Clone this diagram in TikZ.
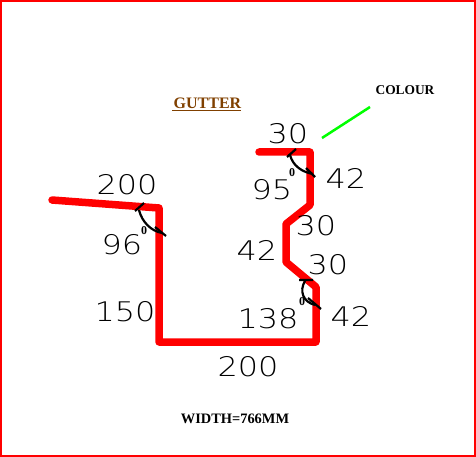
\documentclass[tikz,border=0pt]{standalone}
\usepackage{fontspec}
\setmainfont{Liberation Serif}
\newfontfamily\dimfont[FakeStretch=1.18]{DejaVu Sans ExtraLight}
\definecolor{gutterbrown}{RGB}{128,64,0}
\definecolor{colourgreen}{RGB}{0,255,0}
\tikzset{
	x=1pt,
	y=-1pt,
	frameline/.style={draw=red, line width=2pt},
	profile/.style={draw=red, line width=7.5pt, line join=round, line cap=round},
	pointer/.style={draw=colourgreen, line width=2.5pt},
	anglearc/.style={draw=black, line width=2.2pt},
	dimlabel/.style={font=\dimfont\fontsize{27}{27}\selectfont, text=black, inner sep=0pt},
	degree/.style={font=\bfseries\fontsize{12}{12}\selectfont, inner sep=0pt},
	heading/.style={font=\bfseries\fontsize{#1}{#1}\selectfont, inner sep=0pt}
}
\begin{document}
\begin{tikzpicture}

		\useasboundingbox (0,0) rectangle (476,457);
		\draw[frameline] (1,1) rectangle (475,456);

		% gutter outline
		\coordinate (p0) at (52,200);
		\coordinate (p1) at (159,208);
		\coordinate (p2) at (159,342);
		\coordinate (p3) at (316,342);
		\coordinate (p4) at (316,287);
		\coordinate (p5) at (286,262);
		\coordinate (p6) at (286,224);
		\coordinate (p7) at (310,205);
		\coordinate (p8) at (310,152);
		\coordinate (p9) at (259,152);
		\draw[profile] (p0) -- (p1) -- (p2) -- (p3) -- (p4) -- (p5) -- (p6) -- (p7) -- (p8) -- (p9);

		% titles
		\node[heading=16, text=gutterbrown] (title) at (207.5,103) {GUTTER};
		\coordinate (ulineA) at (172,110.5);
		\coordinate (ulineB) at (241,110.5);
		\draw[gutterbrown, line width=1pt] (ulineA) -- (ulineB);
		\node[heading=13.4] (colour) at (405,90) {COLOUR};
		\node[heading=14.4] (width) at (235,419) {WIDTH=766MM};

		\coordinate (greenA) at (322,138);
		\coordinate (greenB) at (370,107);
		\draw[pointer] (greenA) -- (greenB);

		% angle at the top
		\coordinate (a1) at (296,149);
		\coordinate (a2) at (287,157);
		\coordinate (a3) at (306,168);
		\coordinate (a4) at (315,177);
		\coordinate (a5) at (290,155);
		\coordinate (a6) at (313,174);
		\draw[anglearc] (a1) -- (a2) (a3) -- (a4);
		\draw[anglearc] (a5) .. controls (293,166) and (302,172) .. (a6);

		% angle at the left
		\coordinate (b1) at (144,203);
		\coordinate (b2) at (135,211);
		\coordinate (b3) at (155,227);
		\coordinate (b4) at (166,236);
		\coordinate (b5) at (139,210);
		\coordinate (b6) at (162,233);
		\draw[anglearc] (b1) -- (b2) (b3) -- (b4);
		\draw[anglearc] (b5) .. controls (142,222) and (151,231) .. (b6);

		% angle at the bottom
		\coordinate (c1) at (299,280);
		\coordinate (c2) at (313,280);
		\coordinate (c3) at (308,298);
		\coordinate (c4) at (321,309);
		\coordinate (c5) at (305,281);
		\coordinate (c6) at (315,305);
		\draw[anglearc] (c1) -- (c2) (c3) -- (c4);
		\draw[anglearc] (c5) .. controls (299,291) and (303,302) .. (c6);

		\node[degree] (deg95) at (292,173) {0};
		\node[degree] (deg96) at (144,231) {0};
		\node[degree] (deg138) at (302,302) {0};

		% dimensions
		\node[dimlabel] (top30) at (288,134) {30};
		\node[dimlabel] (top42) at (346,178) {42};
		\node[dimlabel] (ang95) at (272,190) {95};
		\node[dimlabel] (mid30) at (316,226) {30};
		\node[dimlabel] (mid42) at (257,250) {42};
		\node[dimlabel] (low30) at (328,265) {30};
		\node[dimlabel] (ang138) at (268,319) {138};
		\node[dimlabel] (low42) at (351,316) {42};
		\node[dimlabel] (side150) at (125,312) {150};
		\node[dimlabel] (lip200) at (127,185) {200};
		\node[dimlabel] (ang96) at (122,245) {96};
		\node[dimlabel] (base200) at (248,367) {200};

\end{tikzpicture}
\end{document}
